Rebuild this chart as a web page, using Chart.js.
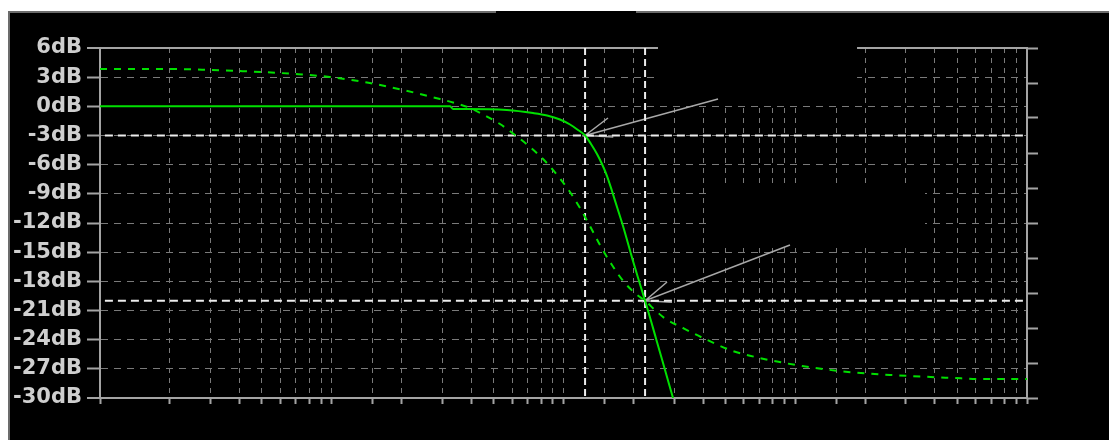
<!DOCTYPE html>
<html>
<head>
<meta charset="utf-8">
<title>Bode</title>
<script src="https://cdn.jsdelivr.net/npm/chart.js@4"></script>
<style>
  body { margin: 0; background: #fff; }
  #frame { position: absolute; left: 8px; top: 11px; right: 0; bottom: 0; background: #000;
           border-top: 2px solid #6c6c6c; border-left: 2px solid #6c6c6c; }
  #gap { position: absolute; left: 496px; top: 11px; width: 140px; height: 2px; background: #000; }
  #wrap { position: absolute; left: 0; top: 0; width: 1109px; height: 440px; }
</style>
</head>
<body>
<div id="frame"></div>
<div id="gap"></div>
<div id="wrap"><canvas id="bode"></canvas></div>

<script>
  // filter response (solid), Hz / dB
  const solidFreq = [10, 100, 324, 334, 383, 570, 739, 849, 966, 1067, 1155, 1239, 1314, 1395,
                     1466, 1541, 1619, 1702, 1806, 1995, 2118, 2249, 2386, 2532, 2742, 2969];
  const solidDb   = [0, 0, 0, -0.27, -0.27, -0.38, -0.69, -0.94, -1.35, -1.87, -2.43, -3.0, -3.87, -4.9,
                     -5.93, -7.17, -8.71, -10.36, -12.31, -15.91, -17.97, -20, -22.08, -24.24, -27.12, -30];

  // second trace (dotted), Hz / dB
  const dottedFreq = [10, 20, 30, 40, 50, 69, 98, 146, 203, 293, 340, 395, 458, 532, 618, 717, 832, 947,
                      1067, 1178, 1301, 1437, 1619, 1824, 2055, 2249, 2482, 2742, 3278, 3999, 5386, 7046,
                      8768, 10693, 13176, 16070, 20400, 25640, 34540, 47950, 62690, 100000];
  const dottedDb   = [3.84, 3.84, 3.74, 3.63, 3.53, 3.33, 3.02, 2.4, 1.68, 0.75, 0.34, -0.17, -0.94, -1.82,
                      -2.95, -4.18, -5.62, -7.17, -8.81, -10.46, -12.31, -14.26, -16.32, -18.07, -19.3, -20,
                      -20.95, -21.82, -22.8, -23.83, -25.17, -25.89, -26.35, -26.71, -27.02, -27.27, -27.48,
                      -27.63, -27.79, -27.94, -28.05, -28.05];

  // cursors
  const cursorFreq = [1239, 2249];
  const cursorDb = [-3, -20];

  // arrow from each cursor to its readout: [long end, head a, head b] in Hz / dB
  const arrowFreq = [[4642, 1556, 1640], [9490, 2797, 2938]];
  const arrowDb = [[0.75, -1.2, -3.15], [-14.26, -18.07, -20.15]];

  // readout windows (black) in Hz / dB
  const readoutFreq = [[2557, 18476], [4204, 36300]];
  const readoutDb = [[7.3, 0.24], [-8.19, -14.37]];

  const fMin = 10, fMax = 100000, dbMin = -30, dbMax = 6, dbStep = 3;

  const pts = (xs, ys) => xs.map((x, i) => ({x, y: ys[i]}));

  const green = '#00e000';
  const cursorColor = '#ececec';
  const gridColor = '#7a7a7a';
  const axisColor = '#a4a4a4';

  const datasets = [
    { data: pts(solidFreq, solidDb), borderColor: green, borderWidth: 2,
      cubicInterpolationMode: 'monotone' },
    { data: pts(dottedFreq, dottedDb), borderColor: green, borderWidth: 2, borderDash: [7, 7],
      cubicInterpolationMode: 'monotone' },
    { data: [{x: fMin * 1.05, y: cursorDb[0]}, {x: fMax, y: cursorDb[0]}], borderColor: cursorColor, borderWidth: 2, borderDash: [8, 5] },
    { data: [{x: fMin * 1.05, y: cursorDb[1]}, {x: fMax, y: cursorDb[1]}], borderColor: cursorColor, borderWidth: 2, borderDash: [8, 5] },
    { data: [{x: cursorFreq[0], y: dbMax}, {x: cursorFreq[0], y: dbMin}], borderColor: cursorColor, borderWidth: 2, borderDash: [7, 4] },
    { data: [{x: cursorFreq[1], y: dbMax}, {x: cursorFreq[1], y: dbMin}], borderColor: cursorColor, borderWidth: 2, borderDash: [7, 4] },
  ];

  arrowFreq.forEach((fs, i) => {
    const tip = {x: cursorFreq[i], y: cursorDb[i]};
    datasets.push({
      data: [{x: fs[1], y: arrowDb[i][1]}, tip, {x: fs[0], y: arrowDb[i][0]},
             {x: fs[0], y: null}, tip, {x: fs[2], y: arrowDb[i][2]}],
      borderColor: '#a8a8a8', borderWidth: 1.5, spanGaps: false
    });
  });

  const readouts = {
    id: 'readouts',
    beforeDatasetsDraw(chart) {
      const {ctx, scales: {x, y}} = chart;
      ctx.save();
      ctx.fillStyle = '#000';
      readoutFreq.forEach((fr, i) => {
        const x0 = x.getPixelForValue(fr[0]), x1 = x.getPixelForValue(fr[1]);
        const y0 = y.getPixelForValue(readoutDb[i][0]), y1 = y.getPixelForValue(readoutDb[i][1]);
        ctx.fillRect(x0, y0, x1 - x0, y1 - y0);
      });
      ctx.restore();
    }
  };

  const edge = v => v === dbMax || v === dbMin;

  new Chart(document.getElementById('bode'), {
    type: 'line',
    data: { datasets },
    plugins: [readouts],
    options: {
      responsive: true,
      maintainAspectRatio: false,
      animation: false,
      layout: { padding: { top: 48 } },
      elements: { point: { radius: 0 }, line: { tension: 0 } },
      plugins: { legend: { display: false }, tooltip: { enabled: false } },
      scales: {
        x: {
          type: 'logarithmic', min: fMin, max: fMax,
          ticks: { display: false },
          grid: { color: gridColor, lineWidth: 1, tickLength: 6, tickColor: axisColor, tickWidth: 2 },
          border: { color: axisColor, width: 2, dash: [5, 5] },
          afterFit: s => { s.height = 42; }
        },
        y: {
          min: dbMin, max: dbMax,
          ticks: { stepSize: dbStep, color: '#cfcfcf', padding: 5,
                   font: { family: 'DejaVu Sans', size: 21, weight: 'bold' },
                   callback: v => v + 'dB' },
          grid: { color: c => edge(c.tick.value) ? axisColor : gridColor,
                  lineWidth: c => edge(c.tick.value) ? 2 : 1,
                  tickLength: 13, tickColor: axisColor, tickWidth: 2 },
          border: { color: axisColor, width: 2, dash: c => (c.tick && edge(c.tick.value)) ? [] : [7, 6] },
          afterFit: s => { s.width = 100; }
        },
        y2: {
          position: 'right', min: 0, max: 10,
          ticks: { display: false, stepSize: 1 },
          grid: { drawOnChartArea: false, tickLength: 11, tickColor: axisColor, tickWidth: 2 },
          border: { color: axisColor, width: 2 },
          afterFit: s => { s.width = 82; }
        }
      }
    }
  });
</script>
</body>
</html>
